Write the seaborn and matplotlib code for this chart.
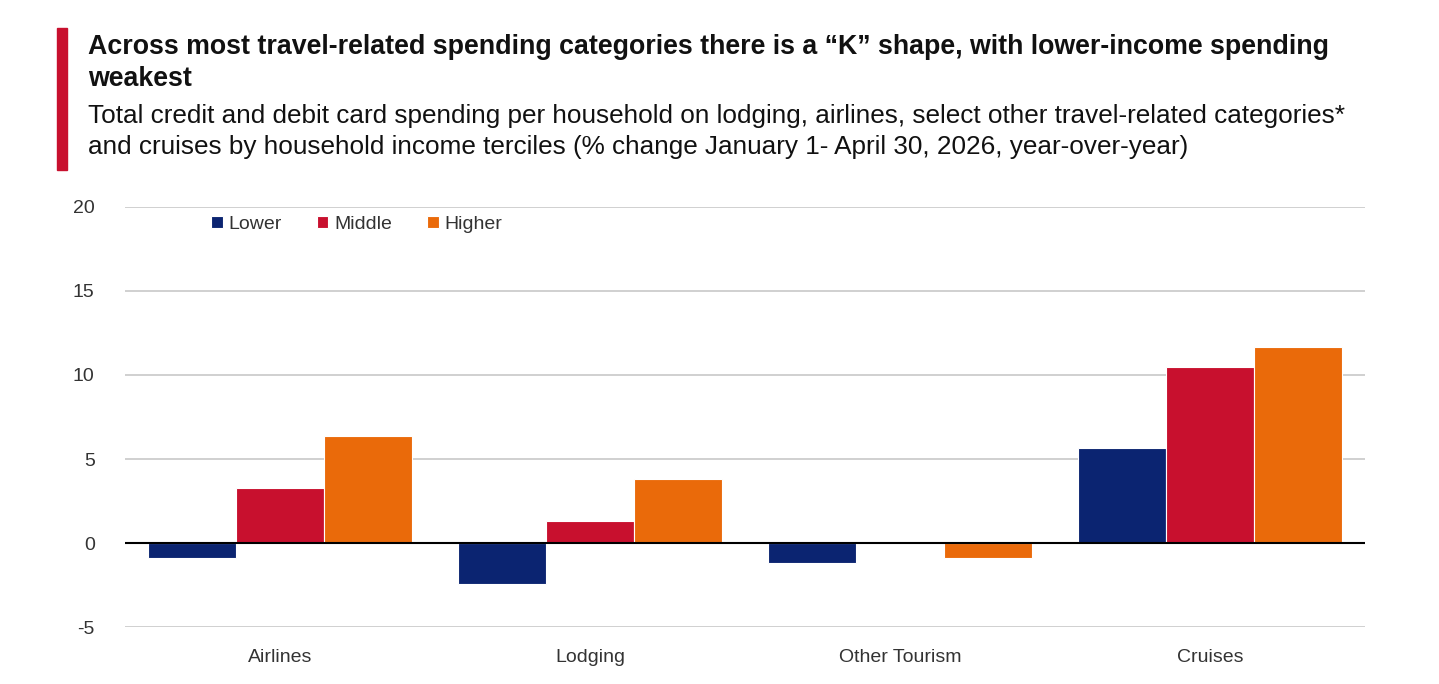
import matplotlib
matplotlib.use("Agg")
import matplotlib.pyplot as plt
import pandas as pd
import seaborn as sns
from matplotlib.patches import Rectangle

CATEGORIES = ["Airlines", "Lodging", "Other Tourism", "Cruises"]
GROUPS = ["Lower", "Middle", "Higher"]
LOWER = [-0.9, -2.45, -1.2, 5.65]
MIDDLE = [3.3, 1.3, 0.0, 10.5]
HIGHER = [6.35, 3.8, -0.9, 11.65]
COLORS = ["#0b2471", "#c8102e", "#ea6a0a"]

TITLE = "Across most travel-related spending categories there is a \u201cK\u201d shape, with lower-income spending\nweakest"
SUBTITLE = ("Total credit and debit card spending per household on lodging, airlines, select other travel-related categories*\n"
            "and cruises by household income terciles (% change January 1- April 30, 2026, year-over-year)")


def build_frame() -> pd.DataFrame:
    rows = []
    for grp, vals in zip(GROUPS, [LOWER, MIDDLE, HIGHER]):
        for cat, v in zip(CATEGORIES, vals):
            rows.append({"category": cat, "group": grp, "value": v})
    return pd.DataFrame(rows)


def main() -> None:
    sns.set_theme(style="white")
    plt.rcParams["font.family"] = ["Liberation Sans", "DejaVu Sans"]
    plt.rcParams["axes.unicode_minus"] = False
    df = build_frame()

    fig = plt.figure(figsize=(14.39, 6.84), dpi=100)
    ax = fig.add_axes([0.087, 0.0833, 0.8616, 0.6141])
    sns.barplot(data=df, x="category", y="value", hue="group", order=CATEGORIES,
                hue_order=GROUPS, palette=COLORS, width=0.85, gap=0, ax=ax,
                saturation=1, errorbar=None)
    for p in ax.patches:
        p.set_edgecolor("white")
        p.set_linewidth(0.8)

    ax.set_ylim(-5, 20)
    ax.set_xlim(-0.5, 3.5)
    ax.set_yticks([-5, 0, 5, 10, 15, 20])
    ax.yaxis.grid(True, color="#c8c8c8", linewidth=1.2)
    ax.set_axisbelow(True)
    ax.axhline(0, color="black", linewidth=1.5)
    for s in ax.spines.values():
        s.set_visible(False)
    ax.set_xlabel("")
    ax.set_ylabel("")
    ax.tick_params(axis="y", labelsize=14, colors="#333333", pad=22, length=0)
    ax.tick_params(axis="x", labelsize=14, colors="#333333", pad=16, length=0)

    leg = ax.legend(loc="upper left", bbox_to_anchor=(0.055, 1.02), ncol=3, frameon=False,
                    fontsize=14, handlelength=0.6, handleheight=0.6, handletextpad=0.3,
                    columnspacing=1.8)
    for t in leg.get_texts():
        t.set_color("#333333")

    fig.patches.append(Rectangle((57 / 1439, 1 - 170 / 684), 10 / 1439, 142 / 684,
                                 transform=fig.transFigure, color="#c8102e"))
    fig.text(88 / 1439, 1 - 34 / 684, TITLE, fontsize=19.3, fontweight="bold",
             va="top", ha="left", color="#111111", linespacing=1.3)
    fig.text(88 / 1439, 1 - 104 / 684, SUBTITLE, fontsize=18.8, va="top", ha="left",
             color="#111111", linespacing=1.35)

    fig.savefig("out.png", dpi=100)


if __name__ == "__main__":
    main()
